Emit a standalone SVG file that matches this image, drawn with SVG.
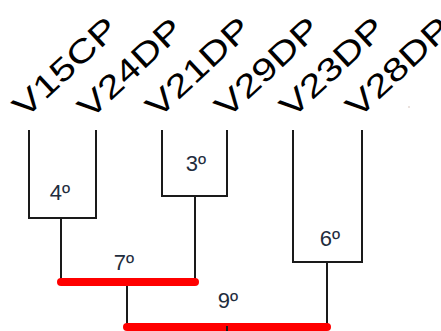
<svg xmlns="http://www.w3.org/2000/svg" width="441" height="331" viewBox="0 0 441 331">
  <style>
    .leaf { font-family: "Liberation Sans", Arial, sans-serif; font-size: 32px; fill: #000; }
    .rank { font-family: "Liberation Sans", Arial, sans-serif; font-size: 22px; fill: #1f2d3d; text-anchor: middle; }
    .br { fill: none; stroke: #1a1a1a; stroke-width: 2; }
    .join { fill: none; stroke: #ff0000; stroke-width: 8; stroke-linecap: round; }
  </style>
  <rect width="441" height="331" fill="#ffffff"/>

  <!-- leaf labels: tilted upward, widened along the baseline -->
  <g id="leaf-V15CP"><text class="leaf" transform="translate(25 119.3) rotate(-43) scale(1.28 1)">V15CP</text></g>
  <g id="leaf-V24DP"><text class="leaf" transform="translate(90 120.3) rotate(-43) scale(1.28 1)">V24DP</text></g>
  <g id="leaf-V21DP"><text class="leaf" transform="translate(158 119.3) rotate(-43) scale(1.28 1)">V21DP</text></g>
  <g id="leaf-V29DP"><text class="leaf" transform="translate(227 119.3) rotate(-43) scale(1.28 1)">V29DP</text></g>
  <g id="leaf-V23DP"><text class="leaf" transform="translate(292 119.3) rotate(-43) scale(1.28 1)">V23DP</text></g>
  <g id="leaf-V28DP"><text class="leaf" transform="translate(358 119.3) rotate(-43) scale(1.28 1)">V28DP</text></g>

  <!-- tree links -->
  <g id="connectors">
    <path class="br" d="M29 130 V218 H96 V130"/>
    <path class="br" d="M162 130 V196 H227 V130"/>
    <path class="br" d="M293 130 V262 H362 V130"/>
    <path class="br" d="M61 218 V282"/>
    <path class="br" d="M195 196 V282"/>
    <path class="br" d="M127 282 V327"/>
    <path class="br" d="M327 262 V327"/>
    <line class="join" x1="61" y1="282" x2="195" y2="282"/>
    <line class="join" x1="127" y1="327" x2="327" y2="327"/>
    <path class="br" d="M227 326 V331"/>
  </g>

  <!-- merge ranks -->
  <g id="rank-4"><text class="rank" x="60" y="200">4º</text></g>
  <g id="rank-3"><text class="rank" x="196" y="171">3º</text></g>
  <g id="rank-7"><text class="rank" x="124" y="270">7º</text></g>
  <g id="rank-6"><text class="rank" x="330" y="246">6º</text></g>
  <g id="rank-9"><text class="rank" x="228" y="308">9º</text></g>

  <circle cx="409" cy="107" r="0.8" fill="#b09080" opacity="0.6"/>
</svg>
